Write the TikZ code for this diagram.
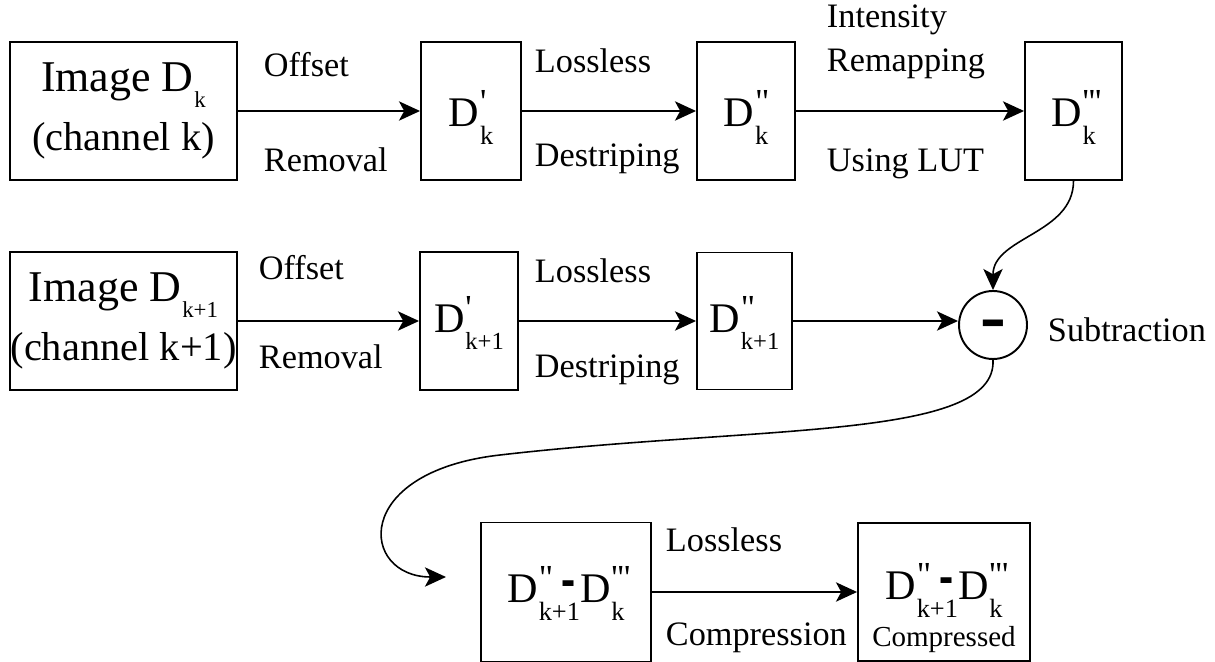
\documentclass[tikz,border=0pt]{standalone}
\usepackage{fontspec}
\setmainfont{Liberation Serif}
\usetikzlibrary{arrows.meta}

% D with a stacked superscript and subscript
\newcommand{\Dsym}[3][15]{D\kern0.5pt\rlap{\raisebox{7.5pt}{\fontsize{20}{20}\selectfont #2}}\raisebox{-\height}{\fontsize{#1}{#1}\selectfont #3}}
\newcommand{\Dminus}{\llap{\raisebox{1.5pt}{\scalebox{1}[1.6]{\bfseries -}}\kern2.5pt}}
\newcommand{\bigsz}{\fontsize{23}{34}\selectfont}
\newcommand{\dsz}{\fontsize{24}{28}\selectfont}
\newcommand{\lblsz}{\fontsize{19.5}{24}\selectfont}

\begin{document}
\begin{tikzpicture}[x=0.02cm,y=-0.02cm,line width=1.1pt,
    >={Stealth[length=12pt,width=11pt,inset=3pt]}]
      \useasboundingbox (0,0) rectangle (1215,662);
      \tikzset{box/.style={shape=rectangle,draw=black,minimum height=2.76cm,inner sep=0pt,font=\dsz},
               lbl/.style={anchor=base west,inner sep=0pt,font=\lblsz}}

      \node[box,minimum width=4.54cm,align=center,font=\bigsz] (imgk) at (123.5,111) {{\fontsize{25}{34}\selectfont Image \Dsym[13]{}{k}}\\(channel k)};
      \node[box,minimum width=2cm,text height=28pt] (dk1) at (471,111) {\Dsym{\textquotesingle}{k}};
      \node[box,minimum width=1.96cm,text height=28pt] (dk2) at (746,111) {\Dsym{\textquotedbl}{k}};
      \node[box,minimum width=1.94cm,text height=28pt] (dk3) at (1073.5,111) {\Dsym{\textquotesingle\textquotesingle\textquotesingle}{k}};

      \node[box,minimum width=4.54cm,align=center,font=\bigsz] (imgkk) at (123.5,321) {{\fontsize{25}{34}\selectfont Image \Dsym[13]{}{k+1}}\\(channel k+1)};
      \node[box,minimum width=1.96cm,text height=23pt] (dkk1) at (469,321) {\Dsym[14]{\textquotesingle}{k+1}};
      \node[box,minimum width=1.9cm,minimum height=2.74cm,text height=23pt] (dkk2) at (744.5,321) {\Dsym[14]{\textquotedbl}{k+1}};
      \node[shape=circle,draw=black,minimum size=1.36cm,inner sep=0pt,font=\fontsize{44}{44}\selectfont\bfseries] (sub) at (993,325) {\smash{\raisebox{-0.21em}{-}}};

      \node[box,minimum width=3.4cm,minimum height=2.78cm,text height=22pt] (diff) at (566,592) {\Dsym{\textquotedbl}{k+1}\Dminus\Dsym{\textquotesingle\textquotesingle\textquotesingle}{k}};
      \node[box,minimum width=3.44cm,align=center] (comp) at (944,592) {\rule{0pt}{39pt}\Dsym{\textquotedbl}{k+1}\Dminus\Dsym{\textquotesingle\textquotesingle\textquotesingle}{k}\\[-1pt] {\fontsize{16.5}{18}\selectfont Compressed}};

      \path [->] (imgk) edge (dk1);
      \path [->] (dk1) edge (dk2);
      \path [->] (dk2) edge (dk3);
      \path [->] (imgkk) edge (dkk1);
      \path [->] (dkk1) edge (dkk2);
      \path [->] (dkk2.east) edge (sub.west |- dkk2.east);
      \path [->] (diff) edge (comp);
      \path [->,line width=0.9pt] (dk3) edge[out=-90,in=90] (sub);
      \coordinate (tip) at (446,577);
      \draw [->,line width=0.9pt] (sub.south) .. controls (997,440) and (760,425) .. (500,455)
            .. controls (350,472) and (360,577) .. (tip);

      \node[lbl] (off1) at (263,77) {Offset};
      \node[lbl] (rem1) at (263,172) {Removal};
      \node[lbl] (los1) at (534,73) {Lossless};
      \node[lbl] (des1) at (534,167) {Destriping};
      \node[lbl] (int1) at (826,28) {Intensity};
      \node[lbl] (rmp1) at (826,72) {Remapping};
      \node[lbl] (lut1) at (826,172) {Using LUT};
      \node[lbl] (off2) at (258,280) {Offset};
      \node[lbl] (rem2) at (258,369) {Removal};
      \node[lbl] (los2) at (534,283) {Lossless};
      \node[lbl] (des2) at (534,378) {Destriping};
      \node[lbl] (subl) at (1047,342) {Subtraction};
      \node[lbl] (los3) at (665,551) {Lossless};
      \node[lbl] (cmp3) at (665,645) {Compression};
    \end{tikzpicture}
\end{document}
